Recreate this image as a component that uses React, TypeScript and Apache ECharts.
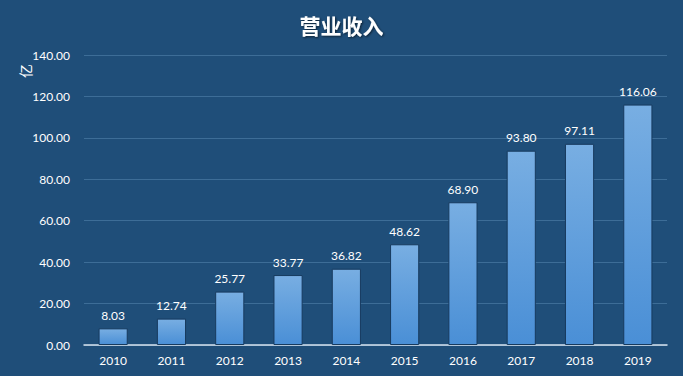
import React, { useEffect, useRef } from "react";
import * as echarts from "echarts";

const years = ["2010", "2011", "2012", "2013", "2014", "2015", "2016", "2017", "2018", "2019"];
const revenue = [8.03, 12.74, 25.77, 33.77, 36.82, 48.62, 68.9, 93.8, 97.11, 116.06];
const titleText = "营业收入";
const unitName = "亿";

export default function App() {
  const ref = useRef<HTMLDivElement>(null);
  useEffect(() => {
    const chart = echarts.init(ref.current!, null, { renderer: "svg" });
    chart.setOption({
      animation: false,
      backgroundColor: "#1f4e79",
      title: {
        text: titleText,
        left: "center",
        top: 9,
        textStyle: {
          color: "#ffffff",
          fontSize: 21,
          fontWeight: "bold",
          fontFamily: "Noto Sans CJK SC",
          textShadowColor: "rgba(0,0,0,0.6)",
          textShadowBlur: 2,
          textShadowOffsetX: 1,
          textShadowOffsetY: 1,
        },
      },
      graphic: [
        {
          type: "text",
          x: 25,
          y: 71,
          rotation: Math.PI / 2,
          style: {
            text: unitName,
            fill: "#ffffff",
            fontSize: 14,
            fontFamily: "Noto Sans CJK SC",
            textAlign: "center",
            textVerticalAlign: "middle",
          },
        },
      ],
      grid: { left: 84, right: 16, top: 55, bottom: 31 },
      xAxis: {
        type: "category",
        data: years,
        axisLine: { lineStyle: { color: "#d8e4f0", width: 1.5 } },
        axisTick: { show: false },
        axisLabel: { color: "#ffffff", fontSize: 12, fontFamily: "Lato", margin: 9 },
      },
      yAxis: {
        type: "value",
        min: 0,
        max: 140,
        interval: 20,
        axisLine: { show: false },
        axisTick: { show: false },
        splitLine: { lineStyle: { color: "#3d6d97", width: 1 } },
        axisLabel: {
          color: "#ffffff",
          fontSize: 12,
          fontFamily: "Lato",
          margin: 14,
          formatter: (v: number) => v.toFixed(2),
        },
      },
      series: [
        {
          type: "bar",
          data: revenue,
          barWidth: "50%",
          itemStyle: {
            color: new echarts.graphic.LinearGradient(0, 0, 0, 1, [
              { offset: 0, color: "#78aee2" },
              { offset: 1, color: "#4a8fd6" },
            ]),
            borderColor: "#173a5e",
            borderWidth: 1,
          },
          label: {
            show: true,
            position: "top",
            distance: 7,
            color: "#ffffff",
            fontSize: 12,
            fontFamily: "Lato",
            formatter: (p: any) => p.value.toFixed(2),
          },
        },
      ],
    });
    return () => chart.dispose();
  }, []);
  return <div ref={ref} style={{ width: 683, height: 376, position: "absolute", left: 0, top: 0 }} />;
}
